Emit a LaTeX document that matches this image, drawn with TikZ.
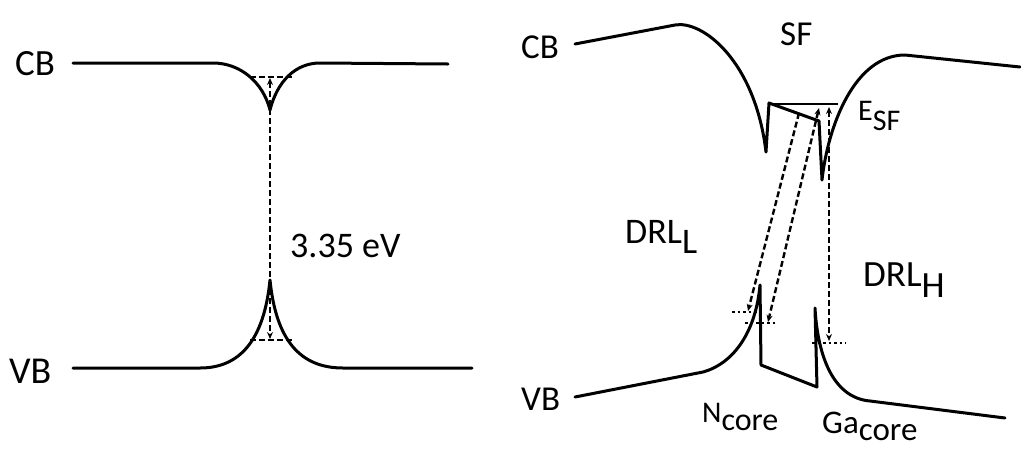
\documentclass[tikz,border=0pt]{standalone}
\usepackage{fontspec}
\setmainfont{Carlito}
\usetikzlibrary{arrows.meta}
\newcommand\fs[1]{\fontsize{#1}{#1}\selectfont}
\newcommand\dnsub[2]{\raisebox{-#1pt}{#2}}
\begin{document}
\begin{tikzpicture}[x=1pt,y=-1pt,
  band/.style={line width=3pt, line join=round, line cap=round},
  lvl/.style={line width=2.4pt, dash pattern=on 6pt off 3pt},
  dotl/.style={line width=2.4pt, dash pattern=on 2.5pt off 3pt},
  thin/.style={line width=1.8pt},
  arr/.style={line width=2.4pt, dash pattern=on 6pt off 3pt, {Stealth[length=7pt,width=6pt]}-{Stealth[length=7pt,width=6pt]}},
  arre/.style={line width=2.4pt, dash pattern=on 6pt off 3pt, -{Stealth[length=7pt,width=6pt]}},
  lbl/.style={inner sep=0pt, anchor=base west}]
\useasboundingbox[fill=white] (0,0) rectangle (1021,448);

% ---------- left panel ----------
\node[lbl] (cbL) at (15,75) {\fs{37}CB};
\node[lbl] (vbL) at (9,383) {\fs{38}VB};
\node[lbl] (gap) at (290,257) {\fs{36}3.35 eV};

\coordinate (cbA) at (73,63);
\coordinate (cbC) at (270,110);
\coordinate (cbD) at (448,64);
\draw[band] (cbA) -- (213,63) .. controls (240,63) and (263,82) .. (cbC)
  .. controls (277,82) and (295,63) .. (320,63) -- (cbD);

\coordinate (vbA) at (73,368);
\coordinate (vbC) at (270,280);
\coordinate (vbD) at (472,368);
\draw[band] (vbA) -- (200,368) .. controls (240,368) and (264,340) .. (vbC)
  .. controls (276,340) and (300,368) .. (343,368) -- (vbD);

\coordinate (l1a) at (250,77);
\coordinate (l1b) at (292,77);
\coordinate (l2a) at (250,340);
\coordinate (l2b) at (293,340);
\draw[lvl] (l1a) -- (l1b);
\draw[lvl] (l2a) -- (l2b);
\coordinate (gT) at (270,78);
\coordinate (gB) at (270,339);
\draw[arr] (gT) -- (gB);

% ---------- right panel ----------
\node[lbl] (cbR) at (521,58) {\fs{35}CB};
\node[lbl] (vbR) at (521,410) {\fs{35}VB};
\node[lbl] (sf) at (780,45) {\fs{35}SF};
\node[lbl] (esf) at (858,120) {\fs{30}E\dnsub{10}{SF}};
\node[lbl] (drll) at (625,243) {\fs{36}DRL\dnsub{10}{L}};
\node[lbl] (drlh) at (863,286) {\fs{37}DRL\dnsub{11}{H}};
\node[lbl] (nc) at (702,422) {\fs{30}N\dnsub{8}{\fs{32}core}};
\node[lbl] (gc) at (822,433) {\fs{33}Ga\dnsub{7}{core}};

% conduction band
\coordinate (cbR1) at (575,44);
\coordinate (cbR2) at (1020,67);
\draw[band] (cbR1) -- (675,25) .. controls (702,20) and (755,60) .. (766,152)
  -- (769,103) -- (819,121) -- (822,180)
  .. controls (828,125) and (855,55) .. (905,55) -- (cbR2);
\coordinate (ef1) at (769,104);
\coordinate (ef2) at (838,104);
\draw[thin] (ef1) -- (ef2);

% valence band
\coordinate (vbR1) at (575,397);
\coordinate (vbR2) at (1005,418);
\draw[band] (vbR1) -- (703,372) .. controls (735,363) and (756,330) .. (760,285)
  -- (761,365) -- (817,387) -- (815,308)
  .. controls (818,360) and (835,398) .. (870,401) -- (vbR2);

% transitions
\coordinate (t1a) at (799,113);
\coordinate (t1b) at (748,311);
\coordinate (t2a) at (819,108);
\coordinate (t2b) at (768,322);
\coordinate (t3a) at (829,107);
\coordinate (t3b) at (829,341);
\draw[arre] (t1a) -- (t1b);
\draw[arr] (t2a) -- (t2b);
\draw[arr] (t3a) -- (t3b);
\coordinate (d1a) at (732,312);
\coordinate (d1b) at (758,312);
\coordinate (d2a) at (745,323);
\coordinate (d2b) at (775,323);
\coordinate (d3a) at (812,343);
\coordinate (d3b) at (846,343);
\draw[dotl] (d1a) -- (d1b);
\draw[dotl] (d2a) -- (d2b);
\draw[dotl] (d3a) -- (d3b);
\end{tikzpicture}
\end{document}
